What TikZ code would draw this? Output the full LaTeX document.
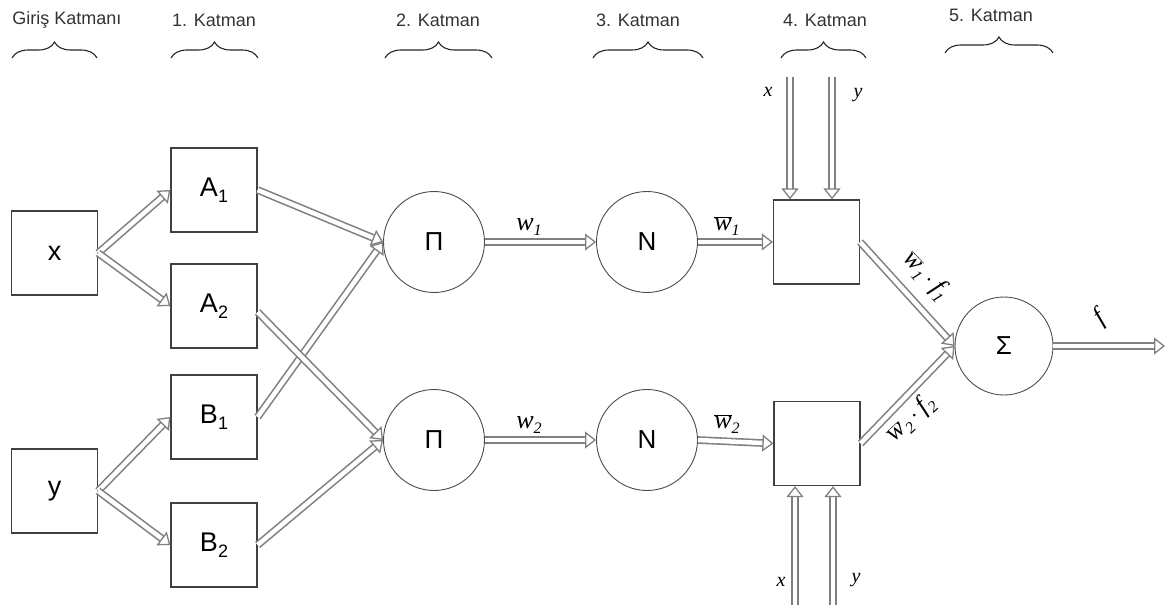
\documentclass[tikz,border=0pt]{standalone}
\usepackage{fontspec}
\setmainfont{Liberation Sans}
\newfontfamily\labfont{Liberation Serif}
\usetikzlibrary{arrows.meta,decorations.pathreplacing,calc}
\newcommand\subidx[1]{\raisebox{-0.45ex}{\fontsize{18}{18}\selectfont #1}}
\newcommand\itsub[1]{\raisebox{-0.45ex}{\fontsize{16}{16}\selectfont #1}}
\newcommand\ovl[1]{$\overline{\mbox{#1}}$}
\begin{document}
\begin{tikzpicture}[x=1pt,y=-1pt,
  box/.style={draw=black!75, line width=1.2pt, minimum width=86pt, minimum height=84pt,
              inner sep=0pt, font=\fontsize{27}{27}\selectfont},
  op/.style={draw=black!70, line width=0.9pt, circle, minimum size=101pt, inner sep=0pt,
             font=\fontsize{26}{26}\selectfont},
  flow/.style={draw=black!50, line width=1.6pt, double=white, double distance=4.5pt,
               -{Triangle[open, length=11pt, width=17pt, line width=1.3pt]}},
  hdr/.style={font=\fontsize{18}{18}\selectfont, text=black!80},
  lay/.style={decorate, decoration={brace, amplitude=16pt}, line width=1.1pt, draw=black!85},
  lbl/.style={font=\labfont\itshape\fontsize{26}{26}\selectfont},
  sml/.style={font=\labfont\itshape\fontsize{20}{20}\selectfont}
]
\useasboundingbox (0,0) rectangle (1171,610);

% layer headings with braces
\node[hdr] (h0) at (67,20) {Giriş Katmanı};
\node[hdr] (h1) at (214,20) {1. Katman};
\node[hdr] (h2) at (438,20) {2. Katman};
\node[hdr] (h3) at (638,20) {3. Katman};
\node[hdr] (h4) at (825,20) {4. Katman};
\node[hdr] (h5) at (991,15) {5. Katman};
\draw[lay] (12,58) -- (97,58);
\draw[lay] (171,58) -- (258,58);
\draw[lay] (385,58) -- (492,58);
\draw[lay] (593,58) -- (703,58);
\draw[lay] (781,58) -- (866,58);
\draw[lay] (945,53) -- (1053,53);

% input and membership boxes
\node[box] (X) at (54.5,253) {x};
\node[box] (Y) at (54.5,491) {y};
\node[box] (A1) at (214,190) {A\subidx{1}};
\node[box] (A2) at (214,306) {A\subidx{2}};
\node[box] (B1) at (214,417) {B\subidx{1}};
\node[box] (B2) at (214,545) {B\subidx{2}};

% rule, normalisation and output nodes
\node[op] (P1) at (434,242) {Π};
\node[op] (P2) at (434,440) {Π};
\node[op] (N1) at (647,242) {N};
\node[op] (N2) at (647,440) {N};
\node[box] (C1) at (816.5,242) {};
\node[box] (C2) at (817,443.5) {};
\node[op, minimum size=98pt] (S) at (1004,346) {Σ};

% connections
\draw[flow] (X.east) -- (A1.west);
\draw[flow] (X.east) -- (A2.west);
\draw[flow] (Y.east) -- (B1.west);
\draw[flow] (Y.east) -- (B2.west);
\draw[flow] (A1.east) -- (P1.west);
\draw[flow] (B1.east) -- (P1.west);
\draw[flow] ([yshift=-6pt]A2.east) -- (P2.west);
\draw[flow] (B2.east) -- (P2.west);
\draw[flow] (P1.east) -- (N1.west);
\draw[flow] (P2.east) -- (N2.west);
\draw[flow] (N1.east) -- (C1.west);
\draw[flow] (N2.east) -- (C2.west);
\draw[flow] (C1.east) -- (S.west);
\draw[flow] (C2.east) -- (S.west);
\coordinate (out) at (1165,346);
\draw[flow] (S.east) -- (out);

% premise inputs to the consequent nodes
\coordinate (tx) at (790,77);
\coordinate (ty) at (832,77);
\coordinate (bx) at (795,605);
\coordinate (by) at (833,605);
\draw[flow] (tx) -- (tx |- C1.north);
\draw[flow] (ty) -- (ty |- C1.north);
\draw[flow] (bx) -- (bx |- C2.south);
\draw[flow] (by) -- (by |- C2.south);

% labels
\node[lbl] (lw1) at (529,227) {w\itsub{1}};
\node[lbl] (lw2) at (529,425) {w\itsub{2}};
\node[lbl] (ln1) at (727,226) {\ovl{w}\itsub{1}};
\node[lbl] (ln2) at (727,424) {\ovl{w}\itsub{2}};
\node[lbl, rotate=-47] (lf1) at (926,276) {\ovl{w}\itsub{1}\,$\cdot$\,f\itsub{1}};
\node[lbl, rotate=43] (lf2) at (911,419) {\ovl{w}\itsub{2}\,$\cdot$\,f\itsub{2}};
\node[lbl, rotate=40] (lf) at (1100,318) {f};
\node[sml] (ltx) at (768,92) {x};
\node[sml] (lty) at (858,95) {y};
\node[sml] (lbx) at (781,582) {x};
\node[sml] (lby) at (856,580) {y};
\end{tikzpicture}
\end{document}
